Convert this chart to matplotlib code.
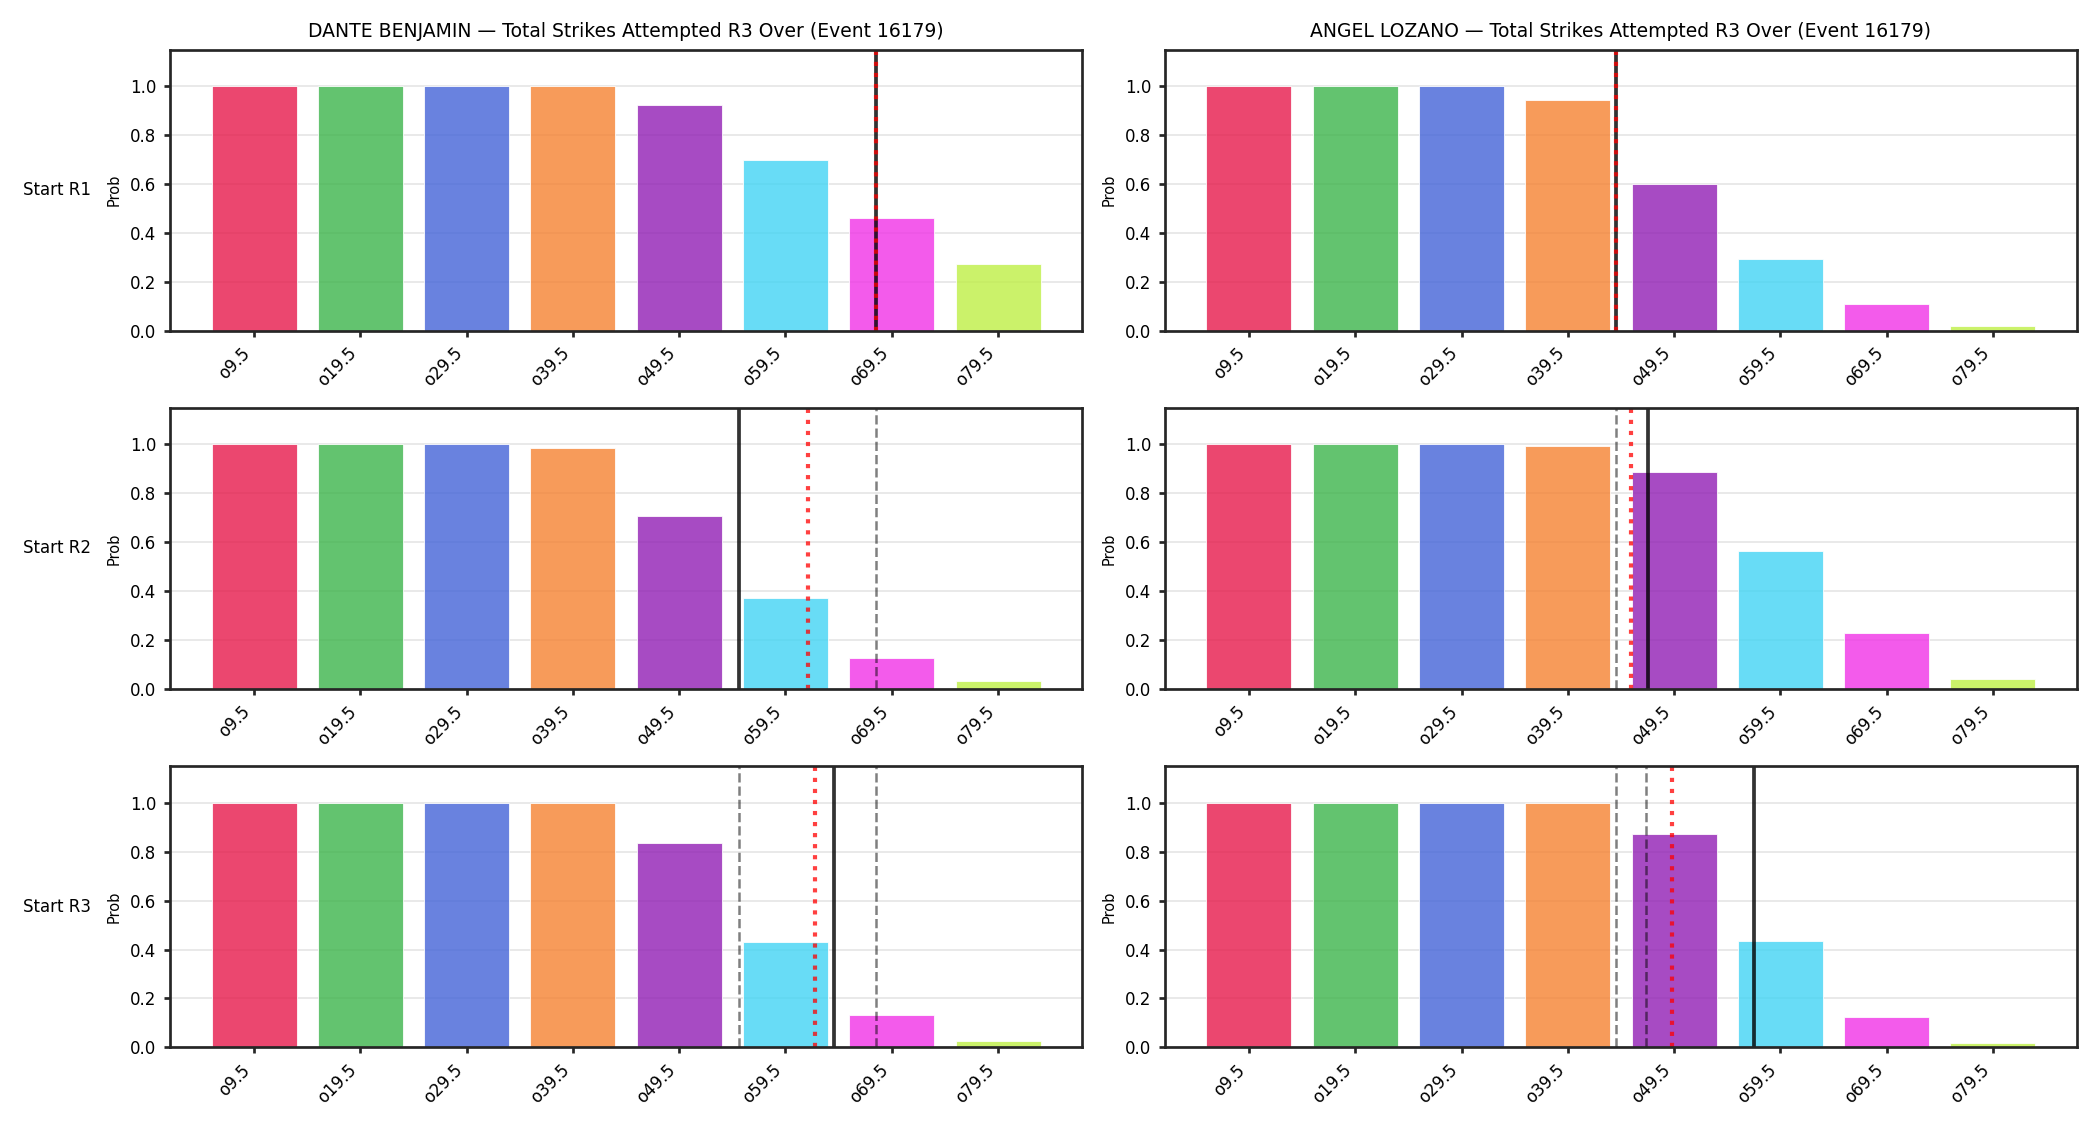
import matplotlib
matplotlib.use("Agg")
import matplotlib.pyplot as plt
import numpy as np

# thresholds on the x axis
lines = ["o9.5", "o19.5", "o29.5", "o39.5", "o49.5", "o59.5", "o69.5", "o79.5"]
colors = ["#e6194b", "#3cb44b", "#4363d8", "#f58231",
          "#911eb4", "#42d4f4", "#f032e6", "#bfef45"]

fighters = ["DANTE BENJAMIN", "ANGEL LOZANO"]
rows = ["Start R1", "Start R2", "Start R3"]

# probabilities per fighter, per row
dante_r1 = [1.0, 1.0, 1.0, 1.0, 0.923, 0.700, 0.463, 0.274]
dante_r2 = [1.0, 1.0, 1.0, 0.984, 0.707, 0.373, 0.129, 0.034]
dante_r3 = [1.0, 1.0, 1.0, 1.0, 0.837, 0.432, 0.132, 0.026]
angel_r1 = [1.0, 1.0, 1.0, 0.944, 0.602, 0.294, 0.110, 0.020]
angel_r2 = [1.0, 1.0, 1.0, 0.995, 0.887, 0.565, 0.231, 0.042]
angel_r3 = [1.0, 1.0, 1.0, 1.0, 0.874, 0.435, 0.123, 0.017]

# marker lines (in bar-index units): current, mean, earlier rows
dante_now = [5.85, 4.56, 5.455]
dante_mean = [5.85, 5.21, 5.28]
dante_prev = [[], [5.85], [4.56, 5.85]]
angel_now = [3.45, 3.75, 4.75]
angel_mean = [3.45, 3.59, 3.98]
angel_prev = [[], [3.45], [3.45, 3.74]]

probs = [[dante_r1, dante_r2, dante_r3], [angel_r1, angel_r2, angel_r3]]
now = [dante_now, angel_now]
mean = [dante_mean, angel_mean]
prev = [dante_prev, angel_prev]

fig, axes = plt.subplots(3, 2, figsize=(14, 7.5), dpi=150)
plt.subplots_adjust(left=0.081, right=0.989, top=0.956, bottom=0.069,
                    wspace=0.091, hspace=0.274)

x = np.arange(len(lines))
for c in range(2):
    for r in range(3):
        ax = axes[r, c]
        ax.set_axisbelow(True)
        ax.yaxis.grid(True, color="0.5", alpha=0.2, lw=0.8)
        ax.bar(x, probs[c][r], color=colors, alpha=0.8, width=0.8,
               edgecolor="white", linewidth=0.5)
        for p in prev[c][r]:
            ax.axvline(p, color="black", alpha=0.5, ls="--", lw=1.2)
        ax.axvline(now[c][r], color="black", alpha=0.8, lw=1.8)
        ax.axvline(mean[c][r], color="red", alpha=0.75, ls=":", lw=2)
        ax.set_ylim(0, 1.15)
        ax.set_yticks([0, 0.2, 0.4, 0.6, 0.8, 1.0])
        ax.set_xticks(x)
        ax.set_xticklabels(lines, rotation=45, ha="right", fontsize=8)
        ax.tick_params(axis="y", labelsize=8)
        ax.tick_params(width=1.3, length=3, color="#262626")
        ax.set_ylabel("Prob", fontsize=7)
        for s in ax.spines.values():
            s.set_linewidth(1.3)
            s.set_color("#262626")
        if r == 0:
            ax.set_title(f"{fighters[c]} — Total Strikes Attempted R3 Over (Event 16179)",
                         fontsize=9)

for r in range(3):
    pos = axes[r, 0].get_position()
    fig.text(0.011, (pos.y0 + pos.y1) / 2, rows[r], fontsize=8,
             ha="left", va="center")

plt.savefig("out.png", dpi=150)
